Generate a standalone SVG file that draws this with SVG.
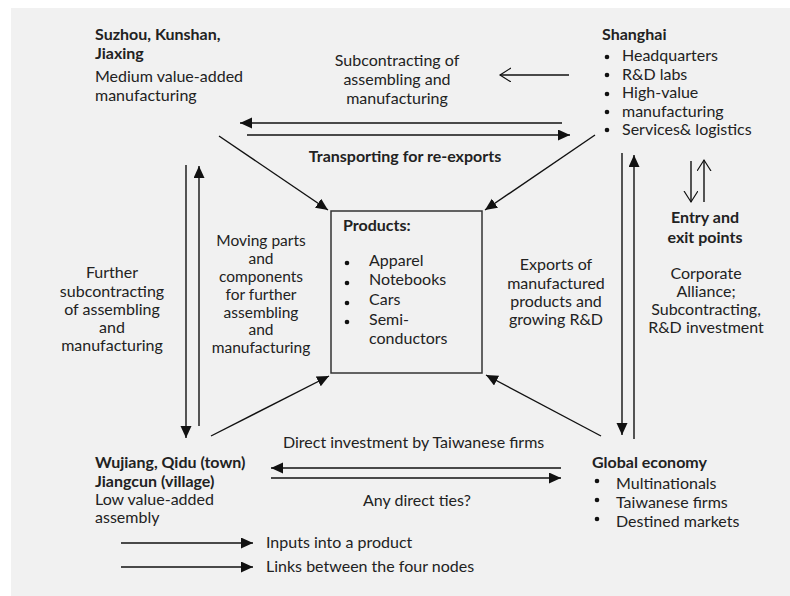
<svg xmlns="http://www.w3.org/2000/svg" width="790" height="596" viewBox="0 0 790 596">
<defs>
<marker id="fill" markerUnits="userSpaceOnUse" markerWidth="14" markerHeight="12" refX="12" refY="5.5" orient="auto">
<path d="M0,0 L12,5.5 L0,11 z" fill="#111"/>
</marker>
<marker id="open" markerUnits="userSpaceOnUse" markerWidth="14" markerHeight="16" refX="11" refY="7" orient="auto">
<path d="M0,0 L11,7 L0,14" fill="none" stroke="#111" stroke-width="1.2"/>
</marker>
<style>
text{font-family:Lato,"Liberation Sans",sans-serif;font-size:16px;fill:#222}
.b{font-weight:bold}
.c{text-anchor:middle}
.s{font-size:15.5px}
.ln{stroke:#111;stroke-width:1.4;fill:none}
.a{marker-end:url(#fill)}
.o{marker-end:url(#open)}
.dot{fill:#111}
</style>
</defs>
<rect x="11" y="8" width="779" height="588" fill="#f1f1f1"/>

<g id="connectors">
<path class="ln o" d="M569,75 L500,75"/>
<path class="ln a" d="M562,123 L240,123"/>
<path class="ln a" d="M247,135 L570,135"/>
<path class="ln a" d="M219,136 L328,210"/>
<path class="ln a" d="M595,135 L485,210"/>
<path class="ln a" d="M211,436 L329,376"/>
<path class="ln a" d="M601,436 L486,375"/>
<path class="ln a" d="M186,165 L186,438"/>
<path class="ln a" d="M199,426 L199,166"/>
<path class="ln a" d="M622,153 L622,435"/>
<path class="ln a" d="M634,439 L634,155"/>
<path class="ln o" d="M691,161 L691,202"/>
<path class="ln o" d="M704,202 L704,160"/>
<path class="ln a" d="M561,468 L271,468"/>
<path class="ln a" d="M271,478 L561,478"/>
</g>

<g id="label-subcontracting">
<text class="c" x="397" y="66">Subcontracting of</text>
<text class="c" x="397" y="85">assembling and</text>
<text class="c" x="397" y="104">manufacturing</text>
</g>
<g id="label-transporting">
<text class="b c" x="405" y="162">Transporting for re-exports</text>
</g>
<g id="label-moving">
<text class="c s" x="261" y="246">Moving parts</text>
<text class="c s" x="261" y="264">and</text>
<text class="c s" x="261" y="282">components</text>
<text class="c s" x="261" y="300">for further</text>
<text class="c s" x="261" y="317.5">assembling</text>
<text class="c s" x="261" y="335">and</text>
<text class="c s" x="261" y="353">manufacturing</text>
</g>
<g id="label-further">
<text class="c" x="112" y="278">Further</text>
<text class="c" x="112" y="297">subcontracting</text>
<text class="c" x="112" y="315">of assembling</text>
<text class="c" x="112" y="333">and</text>
<text class="c" x="112" y="351">manufacturing</text>
</g>
<g id="label-exports">
<text class="c" x="556" y="270">Exports of</text>
<text class="c" x="556" y="289">manufactured</text>
<text class="c" x="556" y="307">products and</text>
<text class="c" x="556" y="325">growing R&amp;D</text>
</g>
<g id="label-entry">
<text class="b c" x="705" y="223">Entry and</text>
<text class="b c" x="705" y="243">exit points</text>
</g>
<g id="label-corporate">
<text class="c" x="706" y="279">Corporate</text>
<text class="c" x="706" y="297">Alliance;</text>
<text class="c" x="706" y="315">Subcontracting,</text>
<text class="c" x="706" y="333">R&amp;D investment</text>
</g>
<g id="label-direct">
<text x="283" y="448">Direct investment by Taiwanese firms</text>
</g>
<g id="label-anyties">
<text x="363" y="506">Any direct ties?</text>
</g>

<g id="node-suzhou">
<text class="b" x="95" y="40">Suzhou, Kunshan,</text>
<text class="b" x="95" y="59">Jiaxing</text>
<text x="95" y="82">Medium value-added</text>
<text x="95" y="101">manufacturing</text>
</g>

<g id="node-shanghai">
<text class="b" x="602" y="40">Shanghai</text>
<circle class="dot" cx="607" cy="57" r="2.3"/>
<circle class="dot" cx="607" cy="75" r="2.3"/>
<circle class="dot" cx="607" cy="94" r="2.3"/>
<circle class="dot" cx="607" cy="112" r="2.3"/>
<circle class="dot" cx="607" cy="130" r="2.3"/>
<text x="622" y="61">Headquarters</text>
<text x="622" y="80">R&amp;D labs</text>
<text x="622" y="98">High-value</text>
<text x="622" y="117">manufacturing</text>
<text x="622" y="135">Services&amp; logistics</text>
</g>

<g id="node-products">
<rect x="331" y="211" width="151" height="162" fill="none" stroke="#333" stroke-width="1.5"/>
<text class="b" x="343" y="231">Products:</text>
<circle class="dot" cx="347" cy="263" r="2.3"/>
<circle class="dot" cx="347" cy="283" r="2.3"/>
<circle class="dot" cx="347" cy="303" r="2.3"/>
<circle class="dot" cx="347" cy="322" r="2.3"/>
<text x="369" y="266">Apparel</text>
<text x="369" y="285">Notebooks</text>
<text x="369" y="305">Cars</text>
<text x="369" y="325">Semi-</text>
<text x="369" y="344">conductors</text>
</g>

<g id="node-wujiang">
<text class="b" x="95" y="468">Wujiang, Qidu (town)</text>
<text class="b" x="95" y="487">Jiangcun (village)</text>
<text x="95" y="505">Low value-added</text>
<text x="95" y="523">assembly</text>
</g>

<g id="node-global">
<text class="b" x="592" y="468">Global economy</text>
<circle class="dot" cx="597" cy="481" r="2.3"/>
<circle class="dot" cx="597" cy="500" r="2.3"/>
<circle class="dot" cx="597" cy="519" r="2.3"/>
<text x="616" y="489">Multinationals</text>
<text x="616" y="508">Taiwanese firms</text>
<text x="616" y="527">Destined markets</text>
</g>

<g id="legend">
<path class="ln a" d="M121,543 L253,543"/>
<path class="ln a" d="M121,567 L253,567"/>
<text x="266" y="548">Inputs into a product</text>
<text x="266" y="572">Links between the four nodes</text>
</g>
</svg>
